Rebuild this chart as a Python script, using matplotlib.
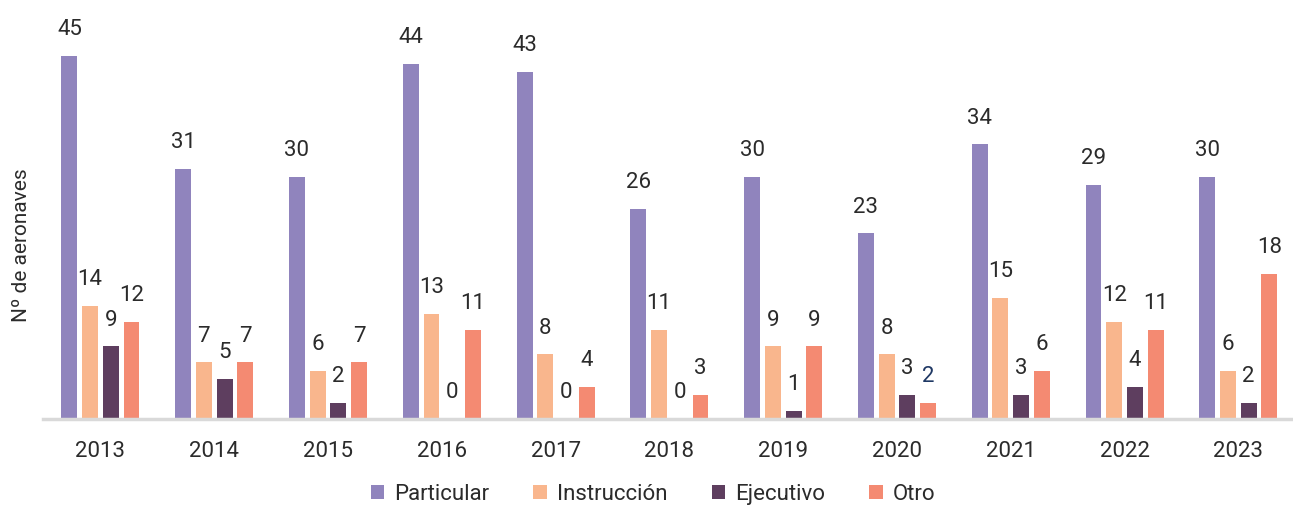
import matplotlib.pyplot as plt
import numpy as np

# Datos
anios = ['2013', '2014', '2015', '2016', '2017', '2018', '2019', '2020', '2021', '2022', '2023']
particular = [45, 31, 30, 44, 43, 26, 30, 23, 34, 29, 30]
instruccion = [14, 7, 6, 13, 8, 11, 9, 8, 15, 12, 6]
ejecutivo = [9, 5, 2, 0, 0, 0, 1, 3, 3, 4, 2]
otro = [12, 7, 7, 11, 4, 3, 9, 2, 6, 11, 18]

series = [('Particular', particular, '#9084BD'),
          ('Instrucción', instruccion, '#F9B68D'),
          ('Ejecutivo', ejecutivo, '#5E3E5F'),
          ('Otro', otro, '#F48A72')]

plt.rcParams['font.family'] = ['Roboto', 'DejaVu Sans']

fig = plt.figure(figsize=(12.93, 5.06), dpi=100)
ax = fig.add_axes([43 / 1293, 1 - 420 / 506, 1 - 43 / 1293, 420 / 506])

x = np.arange(len(anios))
ancho = 0.14
paso = 0.182
color_txt = '#2B2B2B'

for i, (nombre, valores, color) in enumerate(series):
    pos = x + (i - 1.5) * paso
    barras = ax.bar(pos, valores, width=ancho, color=color, label=nombre, zorder=2)
    for j, (b, v) in enumerate(zip(barras, valores)):
        c = color_txt
        if nombre == 'Otro' and anios[j] == '2020':
            c = '#1F3864'
        ax.annotate(str(v), (b.get_x() + b.get_width() / 2, v),
                    xytext=(0, 12), textcoords='offset points',
                    ha='center', va='bottom', fontsize=16, color=c)

ax.set_xlim(-0.505, 10.48)
ax.set_ylim(0, 52)
ax.set_xticks(x)
ax.set_xticklabels(anios, fontsize=16, color=color_txt)
ax.set_yticks([])
ax.tick_params(axis='x', length=0, pad=15)
for s in ['top', 'right', 'left']:
    ax.spines[s].set_visible(False)
ax.spines['bottom'].set_color('#D9D9D9')
ax.spines['bottom'].set_linewidth(2.5)

fig.text(22 / 1293, 1 - 245 / 506, 'Nº de aeronaves', rotation=90,
         ha='center', va='center', fontsize=15, color=color_txt)

fig.legend(loc='center', bbox_to_anchor=(0.505, 1 - 495 / 506), ncol=4,
           frameon=False, fontsize=16, handlelength=0.6, handleheight=0.6,
           handletextpad=0.45, columnspacing=2.0, labelcolor=color_txt)

fig.savefig('out.png', dpi=100)
